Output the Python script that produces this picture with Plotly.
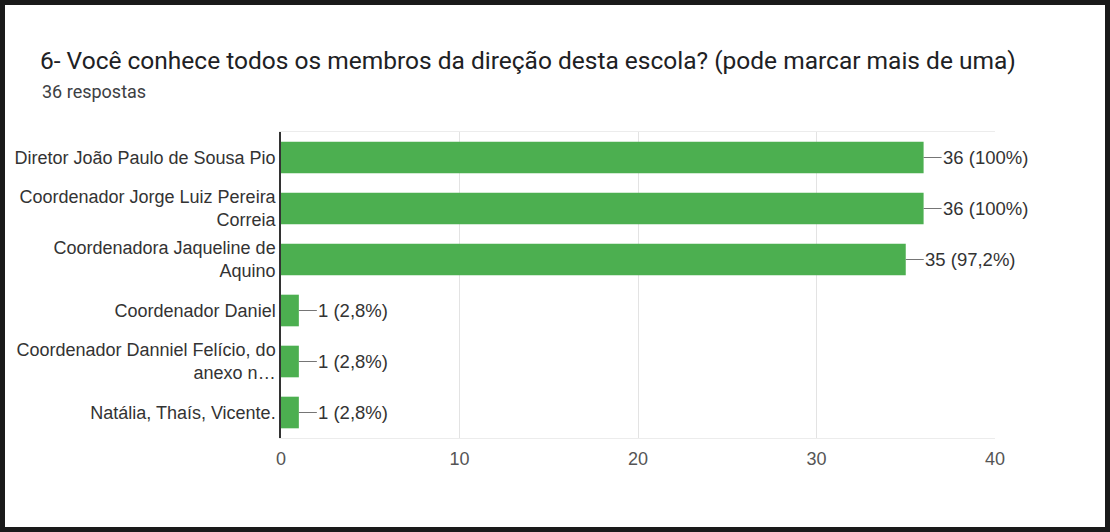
import plotly.graph_objects as go

categories = [
    "Diretor João Paulo de Sousa Pio",
    "Coordenador Jorge Luiz Pereira<br>Correia",
    "Coordenadora Jaqueline de<br>Aquino",
    "Coordenador Daniel",
    "Coordenador Danniel Felício, do<br>anexo n…",
    "Natália, Thaís, Vicente.",
]
counts = [36, 36, 35, 1, 1, 1]
labels = ["36 (100%)", "36 (100%)", "35 (97,2%)", "1 (2,8%)", "1 (2,8%)", "1 (2,8%)"]
x_ticks = [0, 10, 20, 30, 40]

W, H = 1110, 532
L, R, T, B = 281, 115, 132, 94
PW, PH = W - L - R, H - T - B

def px_x(p):
    return (p - L) / PW

def px_y(p):
    return (H - B - p) / PH

fig = go.Figure(go.Bar(
    x=counts, y=categories, orientation="h",
    marker=dict(color="#4CAF50", line=dict(width=0)),
    width=0.62, hoverinfo="skip",
))

for c, v, t in zip(categories, counts, labels):
    fig.add_annotation(
        x=v, y=c, xref="x", yref="y", text=t, showarrow=True,
        arrowhead=0, arrowwidth=1, arrowcolor="#757575", ax=18, ay=0,
        xanchor="left", yanchor="middle", standoff=0, borderpad=0,
        font=dict(family="Liberation Sans, Arial", size=18.5, color="#333333"),
    )

fig.add_annotation(
    x=px_x(40), y=px_y(91), xref="paper", yref="paper", text="36 respostas",
    showarrow=False, xanchor="left", yanchor="middle",
    font=dict(family="Roboto", size=18, color="#3c4043"),
)

fig.add_shape(
    type="rect", xref="paper", yref="paper",
    x0=px_x(2.5), x1=px_x(W - 2.5), y0=px_y(H - 2.5), y1=px_y(2.5),
    line=dict(color="#1a1a1a", width=5), fillcolor="rgba(0,0,0,0)", layer="above",
)

fig.update_layout(
    width=W, height=H,
    margin=dict(l=L, r=R, t=T, b=B),
    paper_bgcolor="white", plot_bgcolor="white",
    showlegend=False,
    title=dict(
        text="6- Você conhece todos os membros da direção desta escola? (pode marcar mais de uma)",
        x=40 / W, xanchor="left", y=1 - 60 / H, yanchor="middle",
        font=dict(family="Roboto", size=24.5, color="#202124"),
    ),
    xaxis=dict(
        range=[0, 40], tickvals=x_ticks, showgrid=True, gridcolor="#e3e3e3",
        zeroline=False, showline=True, linecolor="#ececec", mirror=True,
        ticks="", tickfont=dict(family="Liberation Sans, Arial", size=18, color="#555555"),
        ticklabelstandoff=4,
    ),
    yaxis=dict(
        autorange="reversed", showline=True, linecolor="#333333", linewidth=1.5,
        showgrid=False, ticks="", ticklabelstandoff=0,
        tickfont=dict(family="Liberation Sans, Arial", size=18, color="#333333"),
    ),
)

fig.write_html("out.html", post_script="document.body.style.margin='0';",
               config={"displayModeBar": False})
